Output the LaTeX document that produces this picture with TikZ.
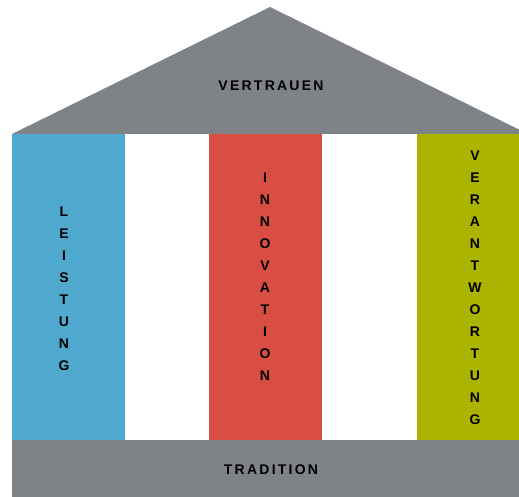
\documentclass[tikz,border=0pt]{standalone}
\usepackage{fontspec}
\setmainfont{Liberation Sans}
\newfontfamily\spaced[LetterSpace=16]{Liberation Sans}
\usepackage{xcolor}
\usepackage{tikz}
\usetikzlibrary{positioning}

\definecolor{roofgray}{HTML}{7F8286}
\definecolor{pblue}{HTML}{4FA9CE}
\definecolor{pred}{HTML}{D94E43}
\definecolor{pgreen}{HTML}{ABB400}

\begin{document}
\begin{tikzpicture}[
        x=1pt, y=-1pt,
        wide/.style={font=\spaced\bfseries\fontsize{14}{16}\selectfont,inner sep=0pt},
        tall/.style={font=\bfseries\fontsize{14}{22}\selectfont,align=center,inner sep=0pt}
      ]
      \useasboundingbox (0,0) rectangle (519,497);
      % roof, pillars, base
      \fill[roofgray] (12,134) -- (270,7) -- (528,134) -- cycle;
      \fill[pblue]  (12,134) rectangle (125,440);
      \fill[pred]   (209,134) rectangle (322,440);
      \fill[pgreen] (417,134) rectangle (528,440);
      \fill[roofgray] (12,440) rectangle (528,497);

      \node[wide] (roof) at (271,86) {VERTRAUEN};
      \node[wide] (base) at (271,470) {TRADITION};
      \node[tall] (leist) at (64,289) {L\\E\\I\\S\\T\\U\\N\\G};
      \node[tall] (innov) at (265,277) {I\\N\\N\\O\\V\\A\\T\\I\\O\\N};
      \node[tall] (verant) at (475,288) {V\\E\\R\\A\\N\\T\\W\\O\\R\\T\\U\\N\\G};
    \end{tikzpicture}
\end{document}
